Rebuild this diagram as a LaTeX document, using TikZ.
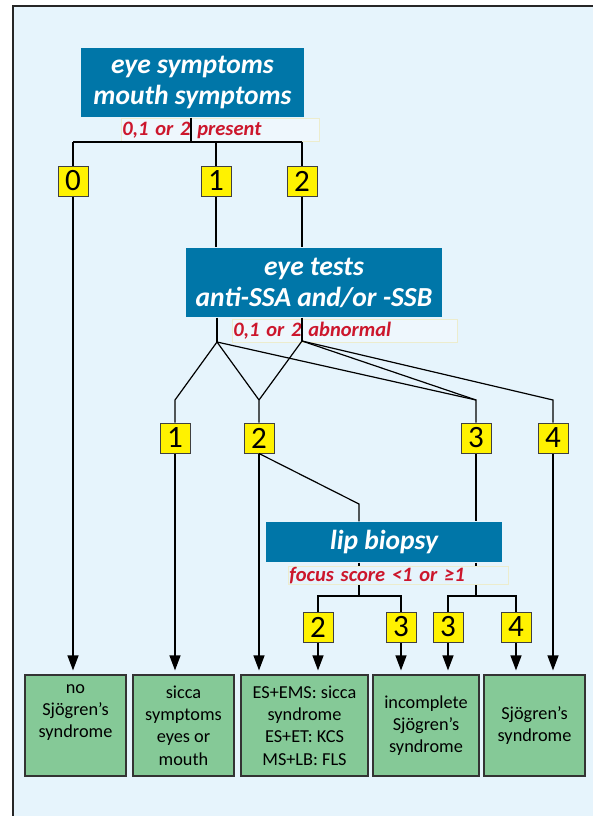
\documentclass[tikz,border=0pt]{standalone}
\usepackage{fontspec}
\setmainfont{Carlito}
\usetikzlibrary{arrows.meta}
\newlength\pu
\setlength\pu{0.03cm}
\definecolor{bgblue}{RGB}{230,244,252}
\definecolor{boxblue}{RGB}{0,118,168}
\definecolor{numyellow}{RGB}{255,242,0}
\definecolor{okgreen}{RGB}{133,201,151}
\definecolor{notered}{RGB}{204,22,44}
\definecolor{notefr}{RGB}{236,236,205}
\tikzset{
  headbox/.style={fill=boxblue, text=white, align=center, inner sep=0pt,
    font=\fontsize{23.5}{26.5}\selectfont\bfseries\itshape},
  note/.style={draw=notefr, line width=.8\pu, fill=white, fill opacity=.35, text opacity=1,
    text=notered, anchor=north west, align=left, inner xsep=1\pu, inner ysep=0pt,
    font=\fontsize{17.5}{20}\selectfont\bfseries\itshape},
  num/.style={draw=black!75, line width=1\pu, fill=numyellow, minimum size=30\pu,
    inner sep=0pt, font=\fontsize{26.5}{26.5}\selectfont},
  result/.style={draw=black!80, line width=1.2\pu, fill=okgreen, align=center,
    inner sep=0pt, minimum height=101\pu, font=\fontsize{15.6}{19}\selectfont}
}
\begin{document}
\begin{tikzpicture}[x=0.03cm, y=-0.03cm, line width=1.2\pu, >={Triangle[length=12.8pt,width=9.4pt]}]
\useasboundingbox (0,0) rectangle (593,816);
\fill[bgblue] (13,6) rectangle (593,816);
\draw[line width=1.6\pu, black!85] (13,816) -- (13,6) -- (593,6);

\node[note, text width=196\pu, minimum height=23\pu] (present) at (121,118) {0,1 or 2 present};
\node[headbox, minimum width=223\pu, minimum height=69\pu] (symp) at (192.5,82.5) {eye symptoms\\mouth symptoms};
\foreach \n/\x/\t in {a0/73/0, a1/216/1, a2/302/2}
{
    \node[num] (\n) at (\x,181) {\t};
}
\coordinate (bar) at (191,142);
\draw (symp.south -| bar) -- (bar);
\draw (a0 |- bar) -- (a2 |- bar);
\foreach \n in {a0,a1,a2}
    \draw (\n |- bar) -- (\n.north);

\node[note, text width=223\pu, minimum height=23\pu] (abnormal) at (232,319) {0,1 or 2 abnormal};
\node[headbox, minimum width=256\pu, minimum height=69\pu] (tests) at (314,282.5) {eye tests\\anti-SSA and/or -SSB};
\draw (a1.south) -- (a1 |- tests.north);
\draw (a2.south) -- (a2 |- tests.north);

\coordinate (ja) at (217,342);
\coordinate (jb) at (302,341);
\coordinate (lvl) at (0,400);
\draw (tests.south -| ja) -- (ja);
\draw (tests.south -| jb) -- (jb);
\foreach \n/\x/\t in {b1/175/1, b2/259/2, b3/476/3, b4/553/4}
{
    \node[num] (\n) at (\x,438) {\t};
}
\draw (ja) -- (b1 |- lvl) -- (b1.north);
\draw (ja) -- (b2 |- lvl) -- (b2.north);
\draw (jb) -- (b2 |- lvl);
\draw (ja) -- (b3 |- lvl) -- (b3.north);
\draw (jb) -- (b3 |- lvl);
\draw (jb) -- (b4 |- lvl) -- (b4.north);

\node[headbox, minimum width=236\pu, minimum height=40\pu] (lip) at (384,542) {lip biopsy};
\coordinate (kink) at (359,504);
\draw (b2.south) -- (kink) -- (kink |- lip.north);
\draw (b3.south) -- (b3 |- lip.north);

\foreach \n/\x/\t in {c1/318/2, c2/401/3, c3/448/3, c4/516/4}
{
    \node[num] (\n) at (\x,627) {\t};
}
\coordinate (lb) at (359,596);
\coordinate (rb) at (476,596);
\draw (lip.south -| lb) -- (lb);
\draw (c1.north) |- (c2 |- lb) -- (c2.north);
\draw (lip.south -| rb) -- (rb);
\draw (c3.north) |- (c4 |- rb) -- (c4.north);
\node[note, fill=bgblue, fill opacity=1, text width=218\pu, minimum height=18\pu] (focus) at (288,566) {focus score <1 or ≥1};

\node[result, minimum width=101\pu] (g1) at (75.5,725.5) {no\\Sjögren’s\\syndrome\\\strut};
\node[result, minimum width=101\pu] (g2) at (183.5,725.5) {sicca\\symptoms\\eyes or\\mouth};
\node[result, minimum width=127\pu] (g3) at (304.5,725.5) {ES+EMS: sicca\\syndrome\\ES+ET: KCS\\MS+LB: FLS};
\node[result, minimum width=106\pu] (g4) at (426,725.5) {incomplete\\Sjögren’s\\syndrome};
\node[result, minimum width=101\pu] (g5) at (534.5,725.5) {Sjögren’s\\syndrome};

\foreach \s/\t in {a0/g1, b1/g2, b2/g3, c1/g3, c2/g4, c3/g4, c4/g5, b4/g5}
    \draw[->, shorten >=4\pu] (\s.south) -- (\s |- \t.north);
\end{tikzpicture}
\end{document}
